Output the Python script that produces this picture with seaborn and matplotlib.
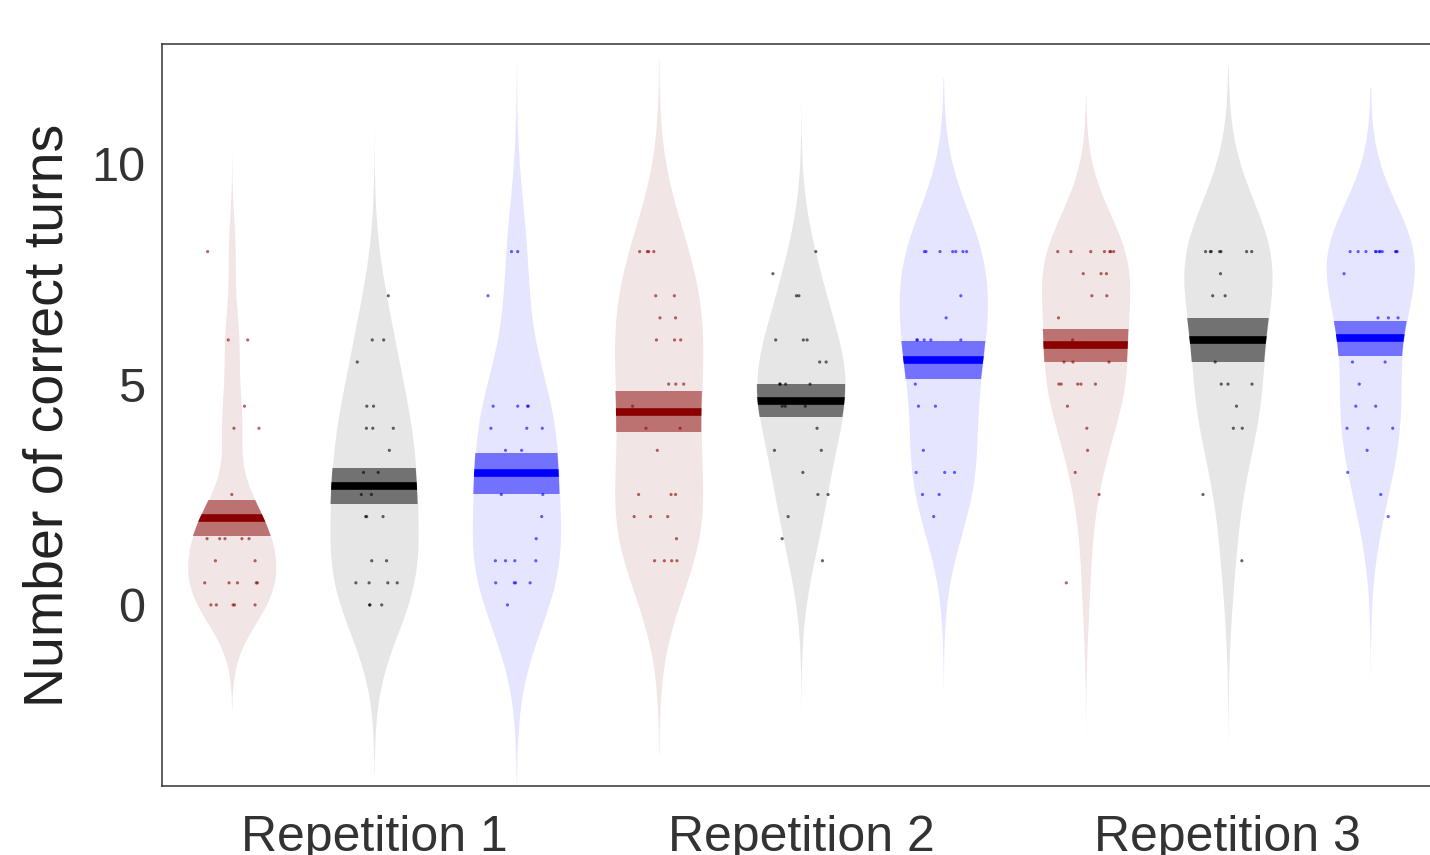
import numpy as np
import pandas as pd
import matplotlib.pyplot as plt
import seaborn as sns

# number of correct turns -> how many participants
rep1_red = {8.0: 1, 6.0: 2, 4.5: 1, 4.0: 2, 2.5: 1, 2.0: 3, 1.5: 5, 1.0: 2,
            0.5: 5, 0.0: 5}
rep1_grey = {7.0: 1, 6.0: 2, 5.5: 1, 4.5: 2, 4.0: 3, 3.5: 1, 3.0: 2, 2.5: 2,
             2.0: 3, 1.0: 2, 0.5: 4, 0.0: 3}
rep1_blue = {8.0: 2, 7.0: 1, 4.5: 4, 4.0: 3, 3.5: 2, 2.5: 2, 2.0: 1, 1.5: 1,
             1.0: 4, 0.5: 4, 0.0: 1}
rep2_red = {8.0: 4, 7.0: 2, 6.5: 2, 6.0: 3, 5.0: 3, 4.5: 1, 4.0: 2, 3.5: 1,
            2.5: 3, 2.0: 3, 1.5: 1, 1.0: 4}
rep2_grey = {8.0: 1, 7.5: 1, 7.0: 2, 6.0: 3, 5.5: 2, 5.0: 4, 4.5: 3, 4.0: 1,
             3.5: 2, 3.0: 1, 2.5: 2, 2.0: 1, 1.5: 1, 1.0: 1}
rep2_blue = {8.0: 7, 7.0: 1, 6.5: 1, 6.0: 5, 5.0: 1, 4.5: 2, 3.5: 1, 3.0: 3,
             2.5: 2, 2.0: 1}
rep3_red = {8.0: 7, 7.5: 3, 7.0: 2, 6.5: 1, 6.0: 1, 5.5: 3, 5.0: 5, 4.5: 1,
            4.0: 1, 3.5: 1, 3.0: 1, 2.5: 1, 0.5: 1}
rep3_grey = {8.0: 7, 7.5: 1, 7.0: 2, 5.5: 1, 5.0: 3, 4.5: 1, 4.0: 2, 2.5: 1, 1.0: 1}
rep3_blue = {8.0: 11, 7.5: 1, 6.5: 3, 5.5: 2, 5.0: 1, 4.5: 2, 4.0: 3, 3.5: 1,
             3.0: 1, 2.5: 1, 2.0: 1}

repetitions = ["Repetition 1", "Repetition 2", "Repetition 3"]
beans = ["r1_red", "r1_grey", "r1_blue", "r2_red", "r2_grey", "r2_blue",
         "r3_red", "r3_grey", "r3_blue"]
bean_data = [rep1_red, rep1_grey, rep1_blue, rep2_red, rep2_grey, rep2_blue,
             rep3_red, rep3_grey, rep3_blue]

line_colors = ["#8b0000", "#000000", "#0000ff"] * 3
fill_colors = ["#f1e5e5", "#e6e6e6", "#e5e5ff"] * 3

rows = []
for name, counts in zip(beans, bean_data):
    for value, n in counts.items():
        rows += [(name, value)] * n
df = pd.DataFrame(rows, columns=["bean", "turns"])


def nrd0(kde):
    """Bandwidth factor like R's bw.nrd0 (used by the pirate plot beans)."""
    x = kde.dataset.ravel()
    sd = x.std(ddof=1)
    iqr = np.subtract(*np.percentile(x, [75, 25]))
    lo = min(sd, iqr / 1.34) if iqr > 0 else sd
    return 0.9 * lo * len(x) ** -0.2 / sd


sns.set_style("white")
plt.rcParams["font.family"] = ["Liberation Sans", "DejaVu Sans"]

fig = plt.figure(figsize=(14.3, 8.55), dpi=100)
ax = fig.add_axes([0.1133, 0.0807, 0.8867, 0.8678])

sns.violinplot(data=df, x="bean", y="turns", hue="bean", order=beans,
               hue_order=beans, palette=dict(zip(beans, fill_colors)),
               saturation=1, inner=None, linewidth=0, cut=3, bw_method=nrd0,
               bw_adjust=1.3, density_norm="width", width=0.62, legend=False,
               ax=ax)
violins = list(ax.collections[:len(beans)])

np.random.seed(7)
sns.stripplot(data=df, x="bean", y="turns", hue="bean", order=beans,
              hue_order=beans, palette=dict(zip(beans, line_colors)),
              size=2.3, alpha=0.6, jitter=0.2, linewidth=0, legend=False, ax=ax)

# mean line + standard error band, clipped to the bean
for i, name in enumerate(beans):
    vals = df.loc[df["bean"] == name, "turns"].to_numpy()
    m = vals.mean()
    se = vals.std(ddof=1) / np.sqrt(len(vals))
    clip = (violins[i].get_paths()[0], violins[i].get_transform())

    band = plt.Rectangle((i - 0.5, m - se), 1.0, 2 * se, color=line_colors[i],
                         alpha=0.5, linewidth=0, zorder=3)
    ax.add_patch(band)
    band.set_clip_path(*clip)

    line, = ax.plot([i - 0.5, i + 0.5], [m, m], color=line_colors[i], lw=5.5,
                    solid_capstyle="butt", zorder=4)
    line.set_clip_path(*clip)

ax.set_xlim(-0.49, 8.42)
ax.set_ylim(-4.1, 12.7)
ax.set_xticks([1, 4, 7], repetitions)
ax.set_yticks([0, 5, 10])
ax.set_xlabel("")
ax.set_ylabel("Number of correct turns", fontsize=40, color="#222222", labelpad=12)
ax.tick_params(axis="both", length=0, labelsize=35, colors="#333333")
ax.tick_params(axis="x", labelsize=36, pad=21)
ax.tick_params(axis="y", pad=12)

for side in ["left", "top", "bottom"]:
    ax.spines[side].set_color("#333333")
    ax.spines[side].set_linewidth(1.1)
ax.spines["right"].set_visible(False)

fig.savefig("out.png", dpi=100)
